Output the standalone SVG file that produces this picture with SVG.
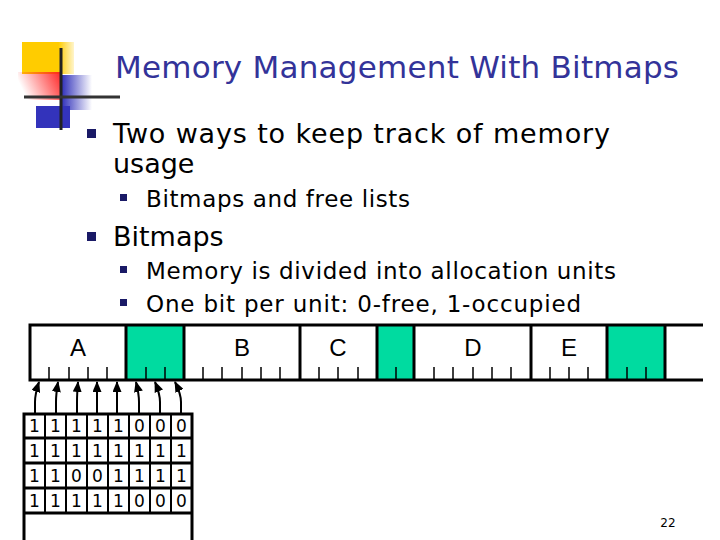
<svg xmlns="http://www.w3.org/2000/svg" width="720" height="540" viewBox="0 0 720 540">
<style>
.t{font-family:"DejaVu Sans",Verdana,sans-serif}
.b{fill:#1a1a66}
.ln{stroke:#000;stroke-width:3;fill:none}
.tk{stroke:#000;stroke-width:1.5}
.g{fill:#00dba0}
.lbl{font-family:"Liberation Sans",Arial,sans-serif;font-size:24px;text-anchor:middle}
.d{font-family:"DejaVu Sans",Verdana,sans-serif;font-size:17px;text-anchor:middle}
.ar{stroke:#000;stroke-width:2;fill:none;marker-end:url(#ah)}
</style>
<defs>
<linearGradient id="rg" x1="1" x2="0" y1="0" y2="0.3"><stop offset="0" stop-color="#ff2020"/><stop offset="1" stop-color="#ff2020" stop-opacity="0"/></linearGradient>
<linearGradient id="bg" x1="0" x2="1"><stop offset="0" stop-color="#3333bb"/><stop offset="1" stop-color="#3333bb" stop-opacity="0"/></linearGradient>
<linearGradient id="yg" x1="0" x2="1"><stop offset="0.7" stop-color="#ffcc00"/><stop offset="1" stop-color="#ffcc00" stop-opacity="0.2"/></linearGradient>
<marker id="ah" markerWidth="11" markerHeight="9" refX="10" refY="4.5" orient="auto" markerUnits="userSpaceOnUse" viewBox="0 0 11 9"><path d="M0,0 L11,4.5 L0,9 Z" fill="#000"/></marker>
</defs>
<rect width="720" height="540" fill="#fff"/>
<g id="logo">
<rect x="22" y="42" width="52" height="32" fill="url(#yg)"/>
<rect x="18" y="72" width="44" height="28" fill="url(#rg)"/>
<rect x="62" y="75" width="30" height="35" fill="url(#bg)"/>
<rect x="36" y="106" width="34" height="22" fill="#3333bb"/>
<line x1="61" y1="48" x2="61" y2="130" stroke="#222" stroke-width="3"/>
<line x1="24" y1="97" x2="120" y2="97" stroke="#333" stroke-width="3"/>
</g>
<text class="t" x="115" y="78" font-size="31" fill="#333399" textLength="564">Memory Management With Bitmaps</text>
<g id="bullets">
<rect class="b" x="87" y="129" width="9" height="9"/>
<text class="t" x="113" y="143" font-size="27" textLength="497">Two ways to keep track of memory</text>
<text class="t" x="113" y="173" font-size="27">usage</text>
<rect class="b" x="120" y="194" width="7" height="7"/>
<text class="t" x="146" y="207" font-size="23" textLength="264">Bitmaps and free lists</text>
<rect class="b" x="87" y="232" width="9" height="9"/>
<text class="t" x="113" y="246" font-size="27">Bitmaps</text>
<rect class="b" x="120" y="266" width="7" height="7"/>
<text class="t" x="146" y="279" font-size="23" textLength="470">Memory is divided into allocation units</text>
<rect class="b" x="120" y="299" width="7" height="7"/>
<text class="t" x="146" y="312" font-size="23" textLength="435">One bit per unit: 0-free, 1-occupied</text>
</g>
<g id="memory">
<rect class="g" x="126" y="325" width="58" height="55"/>
<rect class="g" x="377" y="325" width="37" height="55"/>
<rect class="g" x="607" y="325" width="58" height="55"/>
<path class="ln" d="M703,325 H30 V380 H703"/>
<g class="ln" stroke-width="2">
<line x1="126" y1="325" x2="126" y2="380"/><line x1="184" y1="325" x2="184" y2="380"/>
<line x1="300" y1="325" x2="300" y2="380"/><line x1="377" y1="325" x2="377" y2="380"/>
<line x1="414" y1="325" x2="414" y2="380"/><line x1="531" y1="325" x2="531" y2="380"/>
<line x1="607" y1="325" x2="607" y2="380"/><line x1="665" y1="325" x2="665" y2="380"/>
</g>
<path class="tk" d="M49,367V380M69,367V380M88,367V380M107,367V380M146,367V380M165,367V380M203,367V380M222,367V380M242,367V380M261,367V380M280,367V380M319,367V380M338,367V380M358,367V380M396,367V380M434,367V380M453,367V380M473,367V380M492,367V380M511,367V380M550,367V380M569,367V380M588,367V380M627,367V380M646,367V380"/>
<text class="lbl" x="78" y="356">A</text>
<text class="lbl" x="242" y="356">B</text>
<text class="lbl" x="338" y="356">C</text>
<text class="lbl" x="473" y="356">D</text>
<text class="lbl" x="569" y="356">E</text>
</g>
<g id="connectors">
<path class="ar" d="M35,414 V402 Q35,394 39,382"/>
<path class="ar" d="M56,414 V402 Q56,394 58,382"/>
<path class="ar" d="M77,414 V402 Q77,394 78,382"/>
<path class="ar" d="M97,414 V382"/>
<path class="ar" d="M117,414 V382"/>
<path class="ar" d="M139,414 V402 Q139,394 136,382"/>
<path class="ar" d="M160,414 V402 Q160,394 155,382"/>
<path class="ar" d="M181,414 V402 Q181,394 175,382"/>
</g>
<g id="bitmap">
<path class="ln" d="M24,540 V414 H192 V540 M24,438 H192 M24,463 H192 M24,488 H192 M24,513 H192"/>
<path stroke="#000" stroke-width="2" d="M45,414V513M66,414V513M87,414V513M108,414V513M129,414V513M150,414V513M171,414V513"/>
<g class="d">
<text x="34.5" y="432">1</text><text x="55.5" y="432">1</text><text x="76.5" y="432">1</text><text x="97.5" y="432">1</text><text x="118.5" y="432">1</text><text x="139.5" y="432">0</text><text x="160.5" y="432">0</text><text x="181.5" y="432">0</text>
<text x="34.5" y="457">1</text><text x="55.5" y="457">1</text><text x="76.5" y="457">1</text><text x="97.5" y="457">1</text><text x="118.5" y="457">1</text><text x="139.5" y="457">1</text><text x="160.5" y="457">1</text><text x="181.5" y="457">1</text>
<text x="34.5" y="482">1</text><text x="55.5" y="482">1</text><text x="76.5" y="482">0</text><text x="97.5" y="482">0</text><text x="118.5" y="482">1</text><text x="139.5" y="482">1</text><text x="160.5" y="482">1</text><text x="181.5" y="482">1</text>
<text x="34.5" y="507">1</text><text x="55.5" y="507">1</text><text x="76.5" y="507">1</text><text x="97.5" y="507">1</text><text x="118.5" y="507">1</text><text x="139.5" y="507">0</text><text x="160.5" y="507">0</text><text x="181.5" y="507">0</text>
</g>
</g>
<text class="t" x="668" y="527" font-size="12" text-anchor="middle">22</text>
</svg>
